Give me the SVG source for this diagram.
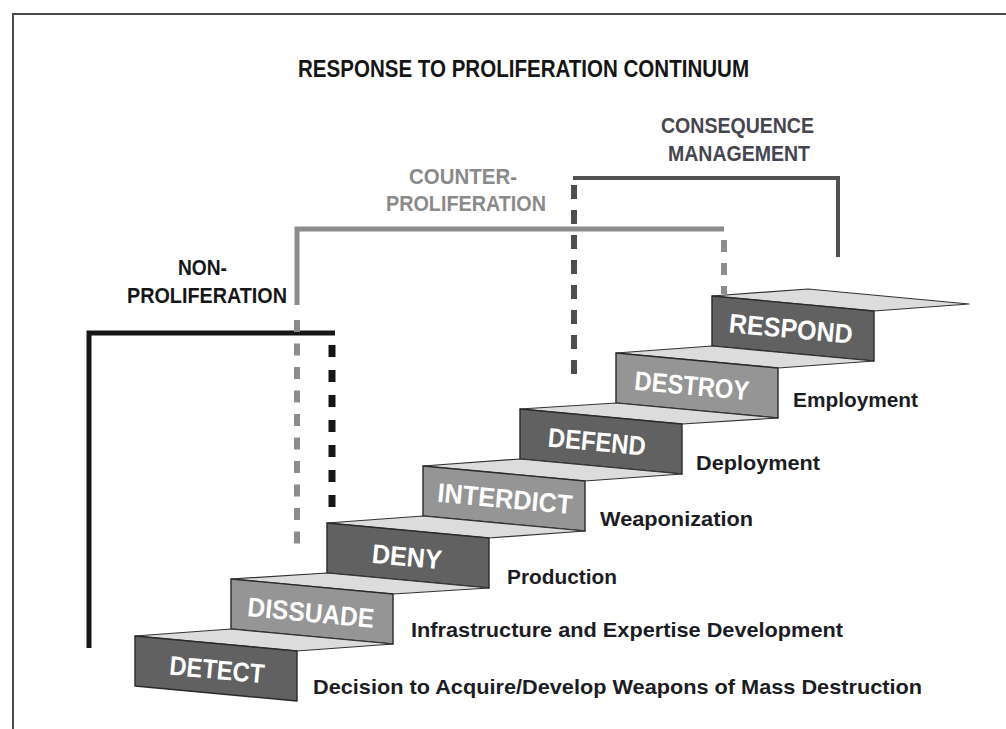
<svg xmlns="http://www.w3.org/2000/svg" width="1006" height="729" viewBox="0 0 1006 729">
<style>
.frame{fill:none;stroke:#4a4a4a;stroke-width:2}
.tread{fill:#dcdcdc;stroke:#333;stroke-width:1.2;stroke-linejoin:round}
.rdark{fill:#616161;stroke:#2a2a2a;stroke-width:1.4;stroke-linejoin:round}
.rlight{fill:#959595;stroke:#2a2a2a;stroke-width:1.4;stroke-linejoin:round}
.st{font-family:"Liberation Sans",Arial,sans-serif;font-weight:bold;font-size:27px;fill:#ffffff;text-anchor:middle}
.lbl{font-family:"Liberation Sans",Arial,sans-serif;font-weight:bold;font-size:21px;fill:#1c1c24}
.head{font-family:"Liberation Sans",Arial,sans-serif;font-weight:bold;font-size:22px}
.title{font-family:"Liberation Sans",Arial,sans-serif;font-weight:bold;font-size:24px;fill:#151515}
.blk{fill:none;stroke:#161616;stroke-width:5}
.gry{fill:none;stroke:#8c8c8c;stroke-width:5}
.cns{fill:none;stroke:#525252;stroke-width:4}
</style>
<rect x="0" y="0" width="1006" height="729" fill="#ffffff"/>
<path class="frame" d="M13,729 V14 H1006"/>
<text class="title" x="298" y="77" textLength="451" lengthAdjust="spacingAndGlyphs">RESPONSE TO PROLIFERATION CONTINUUM</text>

<g id="connectors">
  <path class="blk" d="M89,648 V333 H335"/>
  <line x1="332" y1="345" x2="332" y2="510" stroke="#161616" stroke-width="7" stroke-dasharray="12,13"/>
  <path class="gry" d="M297,305 V229 H724"/>
  <line x1="297" y1="320" x2="297" y2="553" stroke="#8c8c8c" stroke-width="6" stroke-dasharray="12,11.5"/>
  <line x1="724" y1="240" x2="724" y2="294" stroke="#8c8c8c" stroke-width="6" stroke-dasharray="12,11"/>
  <path class="cns" d="M573,178 H838 V257"/>
  <line x1="574" y1="185" x2="574" y2="376" stroke="#4e4e4e" stroke-width="6" stroke-dasharray="14,11"/>
</g>

<g id="label-nonprolif" class="head" fill="#161616">
  <text x="178" y="275" textLength="49" lengthAdjust="spacingAndGlyphs">NON-</text>
  <text x="127" y="303" textLength="160" lengthAdjust="spacingAndGlyphs">PROLIFERATION</text>
</g>
<g id="label-counterprolif" class="head" fill="#8a8a8a">
  <text x="409" y="184" textLength="108" lengthAdjust="spacingAndGlyphs">COUNTER-</text>
  <text x="386" y="211" textLength="160" lengthAdjust="spacingAndGlyphs">PROLIFERATION</text>
</g>
<g id="label-consequence" class="head" fill="#464650">
  <text x="661" y="133" textLength="153" lengthAdjust="spacingAndGlyphs">CONSEQUENCE</text>
  <text x="668" y="161" textLength="142" lengthAdjust="spacingAndGlyphs">MANAGEMENT</text>
</g>

<g id="step-respond">
  <polygon class="tread" points="712,296 808,289 969,304 874,311"/>
  <polygon class="rdark" points="712,296 874,311 874,361 712,346"/>
  <text class="st" transform="translate(791,328) rotate(5.3)" y="10" textLength="124" lengthAdjust="spacingAndGlyphs">RESPOND</text>
</g>
<g id="step-destroy">
  <polygon class="tread" points="616,353 712,346 874,361 778,368"/>
  <polygon class="rlight" points="616,353 778,368 778,418 616,403"/>
  <text class="st" transform="translate(692,385) rotate(5.3)" y="10" textLength="115" lengthAdjust="spacingAndGlyphs">DESTROY</text>
</g>
<g id="step-defend">
  <polygon class="tread" points="520,409 616,403 778,418 682,424"/>
  <polygon class="rdark" points="520,409 682,424 682,474 520,459"/>
  <text class="st" transform="translate(597,441) rotate(5.3)" y="10" textLength="98" lengthAdjust="spacingAndGlyphs">DEFEND</text>
</g>
<g id="step-interdict">
  <polygon class="tread" points="423,466 520,459 682,474 585,481"/>
  <polygon class="rlight" points="423,466 585,481 585,531 423,516"/>
  <text class="st" transform="translate(505,498) rotate(5.3)" y="10" textLength="135" lengthAdjust="spacingAndGlyphs">INTERDICT</text>
</g>
<g id="step-deny">
  <polygon class="tread" points="327,523 423,516 585,531 489,538"/>
  <polygon class="rdark" points="327,523 489,538 489,588 327,573"/>
  <text class="st" transform="translate(407,556) rotate(5.3)" y="10" textLength="70" lengthAdjust="spacingAndGlyphs">DENY</text>
</g>
<g id="step-dissuade">
  <polygon class="tread" points="231,579 327,573 489,588 393,594"/>
  <polygon class="rlight" points="231,579 393,594 393,644 231,629"/>
  <text class="st" transform="translate(311,612) rotate(5.3)" y="10" textLength="127" lengthAdjust="spacingAndGlyphs">DISSUADE</text>
</g>
<g id="step-detect">
  <polygon class="tread" points="135,636 231,629 393,644 297,651"/>
  <polygon class="rdark" points="135,636 297,651 297,701 135,686"/>
  <text class="st" transform="translate(217,669) rotate(5.3)" y="10" textLength="95" lengthAdjust="spacingAndGlyphs">DETECT</text>
</g>

<g id="phase-labels" class="lbl">
  <text x="313" y="694" textLength="609" lengthAdjust="spacingAndGlyphs">Decision to Acquire/Develop Weapons of Mass Destruction</text>
  <text x="411" y="637" textLength="432" lengthAdjust="spacingAndGlyphs">Infrastructure and Expertise Development</text>
  <text x="507" y="584" textLength="110" lengthAdjust="spacingAndGlyphs">Production</text>
  <text x="600" y="526" textLength="153" lengthAdjust="spacingAndGlyphs">Weaponization</text>
  <text x="696" y="470" textLength="124" lengthAdjust="spacingAndGlyphs">Deployment</text>
  <text x="793" y="407" textLength="125" lengthAdjust="spacingAndGlyphs">Employment</text>
</g>
</svg>
